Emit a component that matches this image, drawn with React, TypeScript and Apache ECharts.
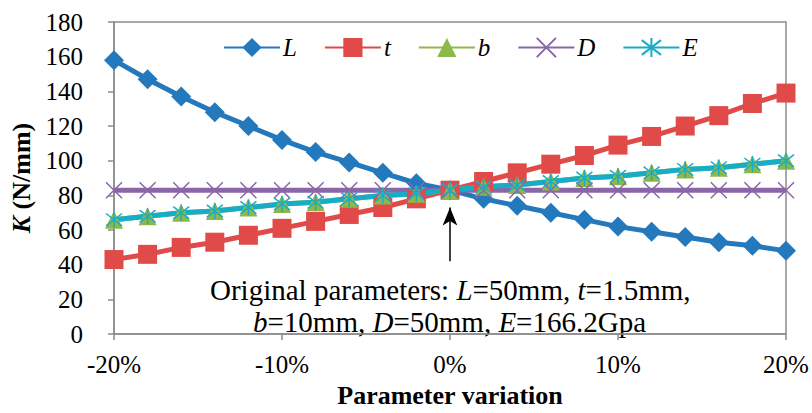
import React, { useEffect, useRef } from "react";
import * as echarts from "echarts";

const variation = [-20, -18, -16, -14, -12, -10, -8, -6, -4, -2, 0, 2, 4, 6, 8, 10, 12, 14, 16, 18, 20];
const seriesL = [158, 147, 137, 128, 120, 112, 105, 99, 93, 87, 83, 78, 74, 70, 66, 62, 59, 56, 53, 51, 48];
const seriesT = [43, 46, 50, 53, 57, 61, 65, 69, 73, 78, 83, 88, 93, 98, 103, 109, 114, 120, 126, 133, 139];
const seriesB = [66, 68, 70, 71, 73, 75, 76, 78, 80, 81, 83, 85, 86, 88, 90, 91, 93, 95, 96, 98, 100];
const seriesD = [83, 83, 83, 83, 83, 83, 83, 83, 83, 83, 83, 83, 83, 83, 83, 83, 83, 83, 83, 83, 83];
const seriesE = [66, 68, 70, 71, 73, 75, 76, 78, 80, 81, 83, 85, 86, 88, 90, 91, 93, 95, 96, 98, 100];
const names = ["L", "t", "b", "D", "E"];
const arrowFrom = [0, 42];
const arrowTo = [0, 73];

const FONT = "Liberation Serif";

const crossPath = "path://M0,0L10,10M10,0L0,10";
const starPath = "path://M0,0L10,10M10,0L0,10M5,-1.5L5,11.5";

export default function App() {
  const ref = useRef<HTMLDivElement>(null);
  useEffect(() => {
    document.body.style.margin = "0";
    if (!ref.current) return;
    const chart = echarts.init(ref.current, null, { renderer: "svg" });
    const mk = (vals: number[]) => variation.map((x, i) => [x, vals[i]]);
    const base = (name: string, vals: number[], color: string, symbol: string, size: number, extra: any = {}) => ({
      name,
      type: "line",
      data: mk(vals),
      symbol,
      symbolSize: size,
      lineStyle: { color, width: 5 },
      itemStyle: { color, ...extra },
      z: 2,
    });
    const serifStyle = { fontFamily: FONT, color: "#000" };
    chart.setOption({
      animation: false,
      textStyle: { fontFamily: FONT },
      grid: { left: 114, right: 26, top: 22, bottom: 70, show: true, borderColor: "#8c8c8c", borderWidth: 1.5 },
      legend: {
        top: 30,
        left: 218,
        itemWidth: 56,
        itemHeight: 24,
        itemGap: 27,
        textStyle: { ...serifStyle, fontSize: 25, fontStyle: "italic", padding: [0, 0, 0, -2] },
        data: names,
      },
      xAxis: {
        type: "value",
        min: -20,
        max: 20,
        interval: 10,
        name: "Parameter variation",
        nameLocation: "middle",
        nameGap: 38,
        nameTextStyle: { ...serifStyle, fontSize: 26, fontWeight: "bold" },
        axisLine: { onZero: false, lineStyle: { color: "#8c8c8c", width: 1.5 } },
        axisTick: { show: true, inside: false, length: 6, lineStyle: { color: "#8c8c8c", width: 1.5 } },
        axisLabel: { formatter: (v: number) => v + "%", ...serifStyle, fontSize: 25, margin: 18 },
        splitLine: { show: false },
      },
      yAxis: {
        type: "value",
        min: 0,
        max: 180,
        interval: 20,
        name: "{k|K} (N/mm)",
        nameLocation: "middle",
        nameGap: 80,
        nameRotate: 90,
        nameTextStyle: {
          ...serifStyle,
          fontSize: 26,
          fontWeight: "bold",
          rich: { k: { ...serifStyle, fontSize: 26, fontWeight: "bold", fontStyle: "italic" } },
        },
        axisLine: { show: true, onZero: false, lineStyle: { color: "#8c8c8c", width: 1.5 } },
        axisTick: { show: true, inside: false, length: 6, lineStyle: { color: "#8c8c8c", width: 1.5 } },
        axisLabel: { ...serifStyle, fontSize: 25, margin: 31 },
        splitLine: { show: false },
      },
      series: [
        base("L", seriesL, "#2479bd", "diamond", 20),
        base("t", seriesT, "#e04b4a", "rect", 19),
        base("b", seriesB, "#8db84a", "triangle", 18),
        base("D", seriesD, "#8a66a8", crossPath, 16, { borderColor: "#8a66a8", borderWidth: 1.5 }),
        {
          ...base("E", seriesE, "#18adc6", starPath, 16, { borderColor: "#18adc6", borderWidth: 1.5 }),
          markLine: {
            silent: true,
            symbol: ["none", "arrow"],
            symbolSize: [11, 18],
            label: { show: false },
            lineStyle: { color: "#000", width: 1.5, type: "solid" },
            data: [[{ coord: arrowFrom }, { coord: arrowTo }]],
          },
        },
      ],
      graphic: [
        {
          type: "text",
          x: 210,
          y: 290,
          style: {
            text: "Original parameters: {i|L}=50mm, {i|t}=1.5mm,",
            fontFamily: FONT,
            fontSize: 29,
            fill: "#000",
            verticalAlign: "middle",
            rich: { i: { fontFamily: FONT, fontSize: 29, fontStyle: "italic", fill: "#000" } },
          },
        },
        {
          type: "text",
          x: 253,
          y: 322,
          style: {
            text: "{i|b}=10mm, {i|D}=50mm, {i|E}=166.2Gpa",
            fontFamily: FONT,
            fontSize: 29,
            fill: "#000",
            verticalAlign: "middle",
            rich: { i: { fontFamily: FONT, fontSize: 29, fontStyle: "italic", fill: "#000" } },
          },
        },
      ],
    });
    return () => chart.dispose();
  }, []);
  return <div ref={ref} style={{ width: 812, height: 413 }} />;
}
